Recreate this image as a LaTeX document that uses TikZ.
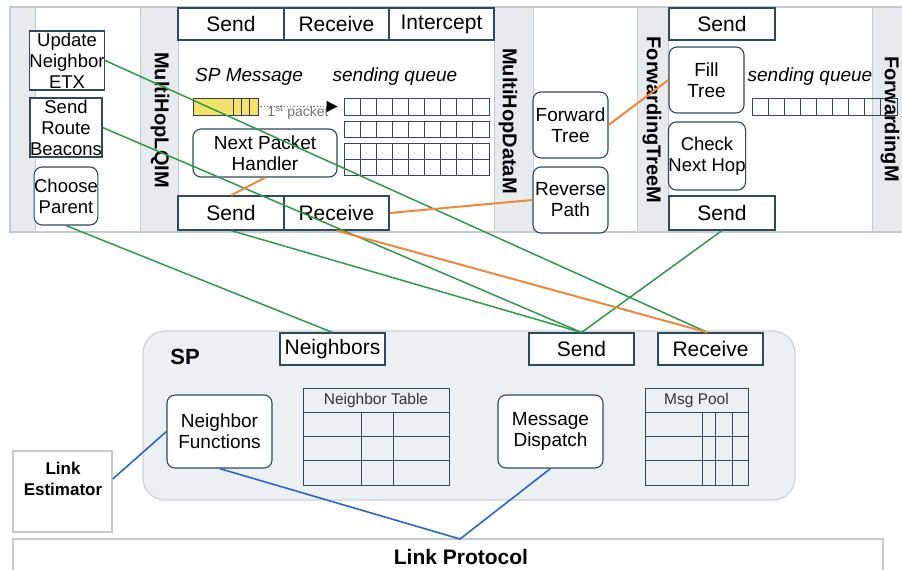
\documentclass[tikz,border=0pt]{standalone}
\usepackage{fontspec}
\setmainfont{Liberation Sans}
\usetikzlibrary{arrows.meta}
\definecolor{nb}{HTML}{2E4A5C}
\definecolor{colg}{HTML}{E7EBEE}
\definecolor{bandln}{HTML}{C4CAD0}
\definecolor{spfill}{HTML}{EDF0F3}
\definecolor{spln}{HTML}{CDD3D9}
\definecolor{gline}{HTML}{2E9A4C}
\definecolor{oline}{HTML}{F2873A}
\definecolor{bline}{HTML}{2A66CC}
\definecolor{yel}{HTML}{F3E26A}
\newcommand\fsz[2]{\fontsize{#1}{#2}\selectfont}
\begin{document}
\begin{tikzpicture}[x=1pt,y=-1pt,
  box/.style={draw=nb, line width=1.1pt, fill=white, inner sep=0pt, align=center, text=black, font=\fsz{19}{21}},
  rbox/.style={box, rounded corners=8pt},
  hdr/.style={box, font=\fsz{21}{23}},
  vlab/.style={rotate=-90, font=\bfseries\fsz{20}{22}, inner sep=0pt},
  ital/.style={font=\itshape\fsz{19}{21}, inner sep=0pt},
  gconn/.style={draw=gline, line width=1.5pt},
  oconn/.style={draw=oline, line width=2pt},
  bconn/.style={draw=bline, line width=1.6pt},
  cell/.style={draw=nb, line width=1pt, inner sep=0pt},
  greybox/.style={draw=bandln, line width=1.5pt, fill=white, inner sep=0pt},
]
\useasboundingbox (0,0) rectangle (902,570);
\clip (0,0) rectangle (902,570);
\fill[white] (0,0) rectangle (902,570);
% top band
\fill[white] (10,7) rectangle (902,232);
\foreach \a/\b in {10/35,140/178,494/533,637/668,872/902} \fill[colg] (\a,7) rectangle (\b,232);
\draw[bandln, line width=1.2pt] (902,7) -- (10,7) -- (10,232) -- (902,232);
\foreach \a in {35,140,178,494,533,637,668,872} \draw[bandln, line width=1pt] (\a,7) -- (\a,232);

% MultiHopLQIM
\node[box, font=\fsz{18.5}{21}, minimum width=66, minimum height=59] (upd) at (67,60.5) {Update\\Neighbor\\ETX};
\node[box, font=\fsz{18.5}{21}, minimum width=62, minimum height=59] (srb) at (66,127.5) {Send\\Route\\Beacons};
\node[rbox, font=\fsz{18.5}{21}, minimum width=62, minimum height=58] (cp) at (66,196) {Choose\\Parent};
\node[vlab] (lqi) at (160,120) {MultiHopLQIM};

% MultiHopDataM
\node[hdr, minimum width=106, minimum height=32] (tsend) at (231,24) {Send};
\node[hdr, minimum width=105, minimum height=32] (trecv) at (336.5,24) {Receive};
\node[hdr, minimum width=105, minimum height=32] (tint) at (441.5,24) {Intercept};
\node[hdr, minimum width=106, minimum height=34] (bsend) at (231,213) {Send};
\node[hdr, minimum width=105, minimum height=34] (brecv) at (336.5,213) {Receive};
\node[ital] (spm) at (249,77) {SP Message};
\node[ital] (sq1) at (395,77) {sending queue};
\node[draw=black!75, fill=yel, line width=0.8pt, minimum width=65, minimum height=17, inner sep=0pt] (yb) at (225.5,106.5) {};
\foreach \x in {233,241,249} \draw[black!80, line width=0.8pt] (\x,98) -- (\x,115);
\node[cell, minimum width=145, minimum height=17] (q1) at (416.5,106.5) {};
\node[cell, minimum width=145, minimum height=16] (q2) at (416.5,129) {};
\node[cell, minimum width=145, minimum height=32] (q3) at (416.5,159) {};
\foreach \i in {1,...,8} {
  \draw[cell] ({344+\i*145/9},98) -- ({344+\i*145/9},115);
  \draw[cell] ({344+\i*145/9},121) -- ({344+\i*145/9},137);
  \draw[cell] ({344+\i*145/9},143) -- ({344+\i*145/9},175);
}
\draw[cell] (344,159) -- (489,159);
\node[inner sep=0pt, text=black!55, font=\fsz{14}{16}] (pk) at (298,112) {1\textsuperscript{st} packet};
\draw[dotted, line width=1.3pt, black!55, -{Triangle[length=11pt, width=11pt, color=black]}] ([xshift=2]yb.east) -- ([xshift=-6]q1.west);
\node[rbox, minimum width=144, minimum height=48] (nph) at (265,153) {Next Packet\\Handler};
\node[vlab] (dm) at (508,121) {MultiHopDataM};

% ForwardingTreeM
\node[rbox, minimum width=75, minimum height=66] (ft) at (570.5,125) {Forward\\Tree};
\node[rbox, minimum width=75, minimum height=66] (rp) at (570.5,200) {Reverse\\Path};
\node[vlab] (ftm) at (652,120) {ForwardingTreeM};

% ForwardingM
\node[hdr, minimum width=106, minimum height=32] (fsend) at (722,24) {Send};
\node[rbox, minimum width=75, minimum height=66] (filltree) at (706.5,80) {Fill\\Tree};
\node[rbox, font=\fsz{18.5}{21}, minimum width=76, minimum height=68] (cnh) at (707,156) {Check\\Next Hop};
\node[hdr, minimum width=106, minimum height=34] (fsend2) at (722,213) {Send};
\node[ital] (sq2) at (810,77) {sending queue};
\node[cell, minimum width=145, minimum height=17] (fq) at (824.5,106.5) {};
\foreach \i in {1,...,8} \draw[cell] ({752+\i*145/9},98) -- ({752+\i*145/9},115);
\node[vlab] (fm) at (890,119) {ForwardingM};

% SP
\node[draw=spln, fill=spfill, line width=1.2pt, rounded corners=22pt, minimum width=652, minimum height=169, inner sep=0pt] (sp) at (469,415.5) {};
\node[font=\bfseries\fsz{22}{24}, inner sep=0pt] (splab) at (185,357) {SP};
\node[hdr, minimum width=105, minimum height=32] (nbr) at (332.5,349) {Neighbors};
\node[hdr, minimum width=105, minimum height=32] (spsend) at (581.5,349) {Send};
\node[hdr, minimum width=105, minimum height=32] (sprecv) at (710.5,349) {Receive};
\node[rbox, minimum width=105, minimum height=73] (nf) at (219.5,431.5) {Neighbor\\Functions};
\node[rbox, minimum width=105, minimum height=73] (md) at (550.5,431.5) {Message\\Dispatch};
\node[cell, minimum width=146, minimum height=97] (ntab) at (376,436.5) {};
\draw[cell] (303,412) -- (449,412) (303,436) -- (449,436) (303,460) -- (449,460)
  (361,412) -- (361,485) (393,412) -- (393,485);
\node[font=\fsz{15.5}{17}, text=black!80, inner sep=0pt] (ntl) at (376,400) {Neighbor Table};
\node[cell, minimum width=103, minimum height=97] (mp) at (696.5,436.5) {};
\draw[cell] (645,412) -- (748,412) (645,436) -- (748,436) (645,460) -- (748,460)
  (702,412) -- (702,485) (715,412) -- (715,485) (732,412) -- (732,485);
\node[font=\fsz{15.5}{17}, text=black!80, inner sep=0pt] (mpl) at (696.5,400) {Msg Pool};

% Link estimator and protocol
\node[greybox, minimum width=99, minimum height=81] (le) at (62.5,491.5) {};
\node[font=\bfseries\fsz{17}{21}, align=center, inner sep=0pt] (let) at (63,479) {Link\\Estimator};
\node[greybox, minimum width=870, minimum height=44] (lp) at (448,561) {};
\node[font=\bfseries\fsz{21}{23}, inner sep=0pt] (lpt) at (461,557) {Link Protocol};
\coordinate (v) at (460,539);

% connectors
\draw[gconn] (upd.east) -- ([xshift=-3]sprecv.north);
\draw[gconn] (srb.east) -- (spsend.north);
\draw[gconn] (cp.south) -- (nbr.north);
\draw[gconn] (bsend.south) -- (spsend.north);
\draw[gconn] (fsend2.south) -- (spsend.north);
\draw[oconn] (nph.south) -- (bsend.north);
\draw[oconn] (brecv.east) -- (rp.west);
\draw[oconn] (ft.east) -- (filltree.west);
\draw[oconn] (brecv.south) -- ([xshift=-3]sprecv.north);
\draw[bconn] (le.east |- let) -- (nf.west);
\draw[bconn] (nf.south) -- (v) -- (md.south);
\end{tikzpicture}
\end{document}
